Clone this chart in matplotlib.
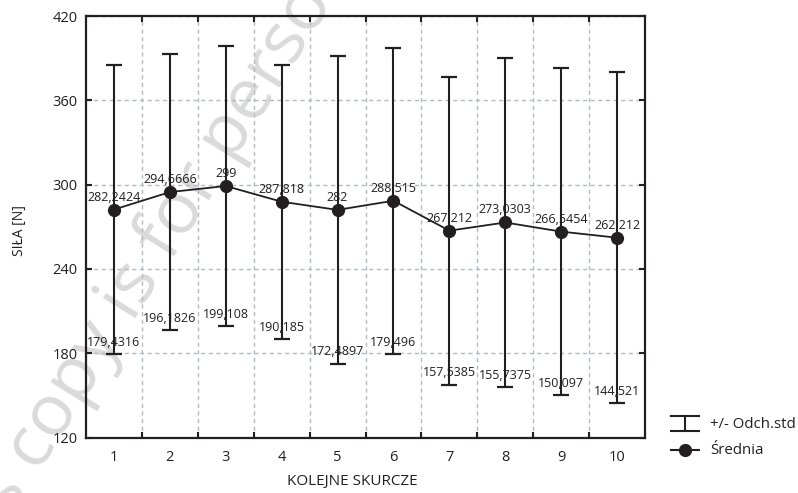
import numpy as np
import matplotlib
matplotlib.use("Agg")
import matplotlib.pyplot as plt
from matplotlib.lines import Line2D

plt.rcParams['font.family'] = ['Open Sans', 'DejaVu Sans']

# Data: contraction number, mean force and lower bound (mean - SD)
skurcze = [1, 2, 3, 4, 5, 6, 7, 8, 9, 10]
srednia = [282.2424, 294.6666, 299.0, 287.818, 282.0, 288.515,
           267.212, 273.0303, 266.5454, 262.212]
dolna = [179.4316, 196.1826, 199.108, 190.185, 172.4897, 179.496,
         157.5385, 155.7375, 150.097, 144.521]
mean_labels = ["282,2424", "294,6666", "299", "287,818", "282", "288,515",
               "267,212", "273,0303", "266,5454", "262,212"]
low_labels = ["179,4316", "196,1826", "199,108", "190,185", "172,4897",
              "179,496", "157,5385", "155,7375", "150,097", "144,521"]
y_ticks = [120, 180, 240, 300, 360, 420]

ink = "#231f20"
grid_col = "#b3bac4"

x = np.array(skurcze, dtype=float)
m = np.array(srednia)
sd = m - np.array(dolna)

fig = plt.figure(figsize=(7.98, 4.93), dpi=100)
ax = fig.add_axes([86 / 798, 1 - 437.5 / 493, (645 - 86) / 798, (437.5 - 16) / 493])
ax.set_zorder(1)
ax.patch.set_visible(False)

ax.errorbar(x, m, yerr=sd, fmt='none', ecolor=ink, elinewidth=1.5,
            capsize=5.8, capthick=1.6, zorder=3)
ax.plot(x, m, color=ink, lw=1.3, marker='o', ms=8.5, zorder=4)

for xi, mi, lo, ml, ll in zip(x, m, dolna, mean_labels, low_labels):
    ax.annotate(ml, (xi, mi), xytext=(0, 6.5), textcoords='offset points',
                ha='center', va='baseline', fontsize=9, color=ink, zorder=5)
    ax.annotate(ll, (xi, lo), xytext=(0, 6.0), textcoords='offset points',
                ha='center', va='baseline', fontsize=9, color=ink, zorder=5)

ax.set_xlim(0.5, 10.5)
ax.set_ylim(120, 420)
ax.set_xticks(x)
ax.set_xticklabels([str(s) for s in skurcze])
ax.set_xticks(np.arange(1.5, 10.5, 1.0), minor=True)
ax.set_yticks(y_ticks)
ax.set_yticklabels([str(v) for v in y_ticks])

ax.tick_params(axis='x', which='major', length=0, pad=9, labelsize=10.5,
               labelcolor=ink)
ax.tick_params(axis='x', which='minor', direction='in', length=4, width=1.5,
               color=ink, top=True, bottom=True)
ax.tick_params(axis='y', which='major', direction='in', length=4, width=1.5,
               color=ink, left=True, right=True, pad=6, labelsize=10.5,
               labelcolor=ink)

ax.grid(True, axis='x', which='minor', color=grid_col, ls=(0, (3, 2.5)), lw=1.0)
ax.grid(True, axis='y', which='major', color=grid_col, ls=(0, (3, 2.5)), lw=1.0)
ax.set_axisbelow(True)

for sp in ax.spines.values():
    sp.set_linewidth(1.6)
    sp.set_color(ink)

# Axis titles
fig.text(20 / 798, 1 - 231 / 493, "SIŁA [N]", rotation=90, ha='center',
         va='center', fontsize=10, color=ink)
fig.text(352 / 798, 1 - 482 / 493, "KOLEJNE SKURCZE", ha='center',
         va='center', fontsize=11, color=ink)

# Legend drawn in figure pixel space
def px(xp, yp):
    return xp / 798, 1 - yp / 493

lx0, lx1, lxc = 671, 699, 685
for yy in (416, 431):
    (a, b), (c, d) = px(lx0, yy), px(lx1, yy)
    fig.add_artist(Line2D([a, c], [b, d], color=ink, lw=1.5))
(a, b), (c, d) = px(lxc, 416), px(lxc, 431)
fig.add_artist(Line2D([a, c], [b, d], color=ink, lw=1.5))
(a, b), (c, d) = px(lx0, 450), px(lx1, 450)
fig.add_artist(Line2D([a, c], [b, d], color=ink, lw=1.5))
mx, my = px(lxc, 450)
fig.add_artist(Line2D([mx], [my], color=ink, marker='o', ms=8.5))
tx, ty = px(710, 424)
fig.text(tx, ty, "+/- Odch.std", ha='left', va='center', fontsize=10.8, color=ink)
tx, ty = px(710, 451)
fig.text(tx, ty, "Średnia", ha='left', va='center', fontsize=10.8, color=ink)

# Faint diagonal notice behind the chart
fig.text(-43 / 798, 1 - 605 / 493, "This copy is for personal use only",
         rotation=58, rotation_mode='anchor', ha='left', va='baseline',
         fontsize=52, color="#dadada", zorder=0)

fig.savefig("out.png", dpi=100)
